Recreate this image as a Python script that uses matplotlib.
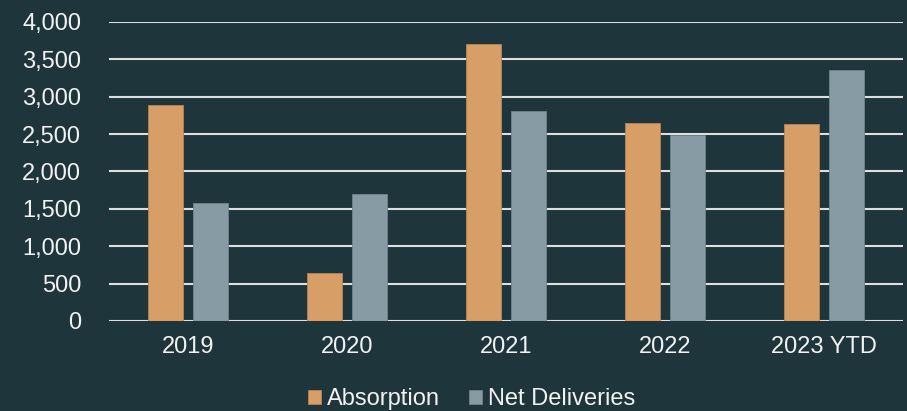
import matplotlib.pyplot as plt
import numpy as np

years = ['2019', '2020', '2021', '2022', '2023 YTD']
absorption = [2890, 640, 3705, 2650, 2640]
net_deliveries = [1575, 1700, 2810, 2485, 3355]

bg = '#1e353b'
txt = '#f2f2f2'

plt.rcParams['font.family'] = ['Liberation Sans', 'DejaVu Sans']

fig = plt.figure(figsize=(9.07, 4.11), dpi=100, facecolor=bg)
ax = fig.add_axes([0.120, 0.219, 0.876, 0.7275], facecolor=bg)

x = np.arange(len(years))
w = 0.22
gap = 0.063
ax.bar(x - (w + gap) / 2, absorption, w, color='#d79e67', edgecolor='#b98450',
       linewidth=0.6, label='Absorption', zorder=3)
ax.bar(x + (w + gap) / 2, net_deliveries, w, color='#869ba3', edgecolor='#6f848c',
       linewidth=0.6, label='Net Deliveries', zorder=3)

ax.set_xlim(-0.5, len(years) - 0.5)
ax.set_ylim(0, 4000)
ax.set_yticks(np.arange(0, 4001, 500))
ax.set_yticklabels([f'{v:,}' for v in range(0, 4001, 500)])
ax.set_xticks(x)
ax.set_xticklabels(years)
ax.yaxis.grid(True, color='#dedede', linewidth=1.5, zorder=0)
ax.set_axisbelow(True)
for s in ax.spines.values():
    s.set_visible(False)
ax.tick_params(length=0, colors=txt, labelsize=17)
ax.tick_params(axis='y', pad=20)
ax.tick_params(axis='x', pad=11)

leg = ax.legend(loc='center', bbox_to_anchor=(0.52, 0.028),
                bbox_transform=fig.transFigure, ncol=2,
                frameon=False, fontsize=17, handlelength=0.55, handleheight=0.55,
                handletextpad=0.25, columnspacing=1.2, labelcolor=txt,
                borderpad=0, borderaxespad=0)

fig.savefig('out.png', dpi=100, facecolor=bg)
